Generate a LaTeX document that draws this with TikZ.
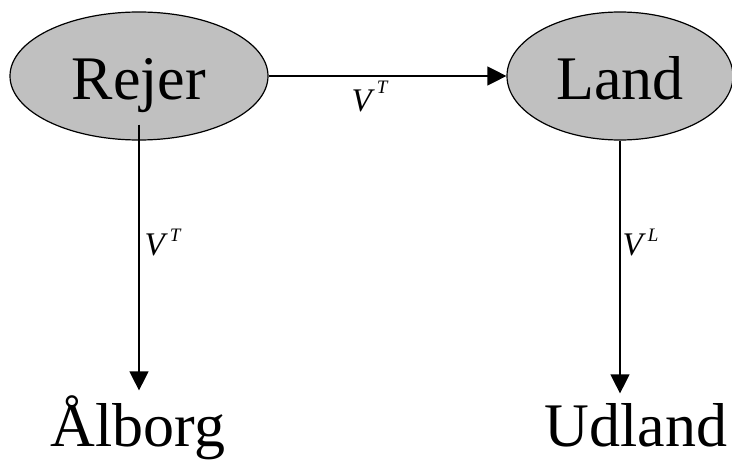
\documentclass[tikz,border=0pt]{standalone}
\usepackage{fontspec}
\setmainfont{Liberation Serif}
\usetikzlibrary{shapes.geometric, arrows.meta}
\definecolor{shade}{RGB}{192,192,192}
\newcommand{\supvar}[2]{\textit{V}\hspace{2pt}\raisebox{#2}{\fontsize{19}{19}\selectfont\textit{#1}}}

\begin{document}
\begin{tikzpicture}[x=1pt, y=-1pt, line width=1.2pt,
  place/.style={ellipse, draw, fill=shade, inner sep=0pt, minimum height=128pt, text height=48pt, text depth=0pt, font=\fontsize{62}{62}\selectfont},
  sink/.style={anchor=base, inner sep=0pt, text height=52pt, font=\fontsize{62}{62}\selectfont},
  flow/.style={anchor=base west, inner sep=0pt, font=\fontsize{33}{33}\selectfont},
  tip/.style={-{Triangle[length=19pt, width=19pt]}}]
\useasboundingbox (0, 0) rectangle (732, 460);
\node (rejer) at (139, 76) [place, minimum width=258pt]{Rejer};
\node (land) at (620, 76) [place, minimum width=226pt]{Land};
\node (aalborg) at (138, 446) [sink]{Ålborg};
\node (udland) at (636, 446) [sink]{Udland};
\draw[tip] (rejer.east) -- (land.west);
\draw[tip, shorten >=3pt] ([yshift=16pt]rejer.south) -- (rejer.south |- aalborg.north);
\draw[tip] (land.south) -- (land.south |- udland.north);
\node (flowtop) at (351, 112) [flow]{\supvar{T}{18pt}};
\node (flowleft) at (144, 255) [flow]{\supvar{T}{14pt}};
\node (flowright) at (622, 255) [flow]{\supvar{L}{14pt}};
\end{tikzpicture}
\end{document}
